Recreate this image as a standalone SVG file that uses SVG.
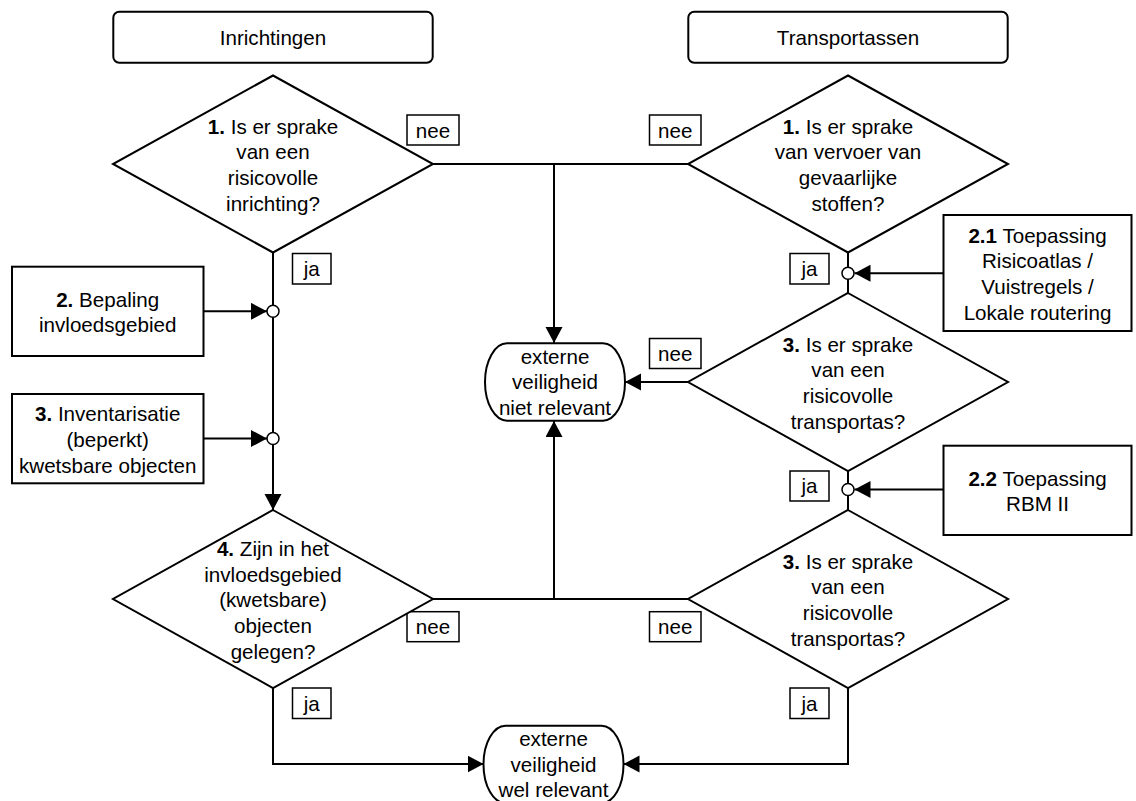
<svg xmlns="http://www.w3.org/2000/svg" width="1136" height="801" viewBox="0 0 1136 801">
<style>
text{font-family:"Liberation Sans",Arial,sans-serif;font-size:20.6px;fill:#000;text-anchor:middle}
.b{font-weight:bold}
.shape{fill:#fff;stroke:#000;stroke-width:2}
.lbl{fill:#fff;stroke:#000;stroke-width:1.5}
.ln{fill:none;stroke:#000;stroke-width:2}
.dot{fill:#fff;stroke:#000;stroke-width:1.5}
</style>
<defs>
<marker id="ah" markerUnits="userSpaceOnUse" markerWidth="17" markerHeight="18" refX="16" refY="8.5" orient="auto">
<path d="M0,0 L16,8.5 L0,17 Z" fill="#000"/>
</marker>
</defs>
<rect width="1136" height="801" fill="#fff"/>

<g id="connectors">
<path class="ln" d="M433,164 H688"/>
<path class="ln" d="M554,164 V343" marker-end="url(#ah)"/>
<path class="ln" d="M273,252.5 V510" marker-end="url(#ah)"/>
<path class="ln" d="M203.5,311.3 H267" marker-end="url(#ah)"/>
<path class="ln" d="M203.5,438.5 H267" marker-end="url(#ah)"/>
<path class="ln" d="M848,252.5 V293"/>
<path class="ln" d="M943.5,273.3 H854.5" marker-end="url(#ah)"/>
<path class="ln" d="M688,382 H625" marker-end="url(#ah)"/>
<path class="ln" d="M848,471 V510"/>
<path class="ln" d="M943.5,489.5 H854.5" marker-end="url(#ah)"/>
<path class="ln" d="M433,599 H688"/>
<path class="ln" d="M554,599 V421" marker-end="url(#ah)"/>
<path class="ln" d="M273,688 V764 H483.5" marker-end="url(#ah)"/>
<path class="ln" d="M848,688 V764 H623.5" marker-end="url(#ah)"/>
<circle class="dot" cx="273" cy="311.3" r="6"/>
<circle class="dot" cx="273" cy="438.5" r="6"/>
<circle class="dot" cx="848" cy="273.3" r="6"/>
<circle class="dot" cx="848" cy="489.5" r="6"/>
</g>

<g id="labels">
<rect class="lbl" x="407" y="115" width="52" height="30"/><text x="433" y="137.5">nee</text>
<rect class="lbl" x="649.5" y="115" width="51.5" height="30"/><text x="675.2" y="137.5">nee</text>
<rect class="lbl" x="649.5" y="338.5" width="51.5" height="30"/><text x="675.2" y="361">nee</text>
<rect class="lbl" x="407" y="611.7" width="52" height="30"/><text x="433" y="634">nee</text>
<rect class="lbl" x="649.5" y="611.7" width="51.5" height="30"/><text x="675.2" y="634">nee</text>
<rect class="lbl" x="292.5" y="253.5" width="38.5" height="30.5"/><text x="311.7" y="276">ja</text>
<rect class="lbl" x="790" y="253.5" width="39" height="30.5"/><text x="809.5" y="276">ja</text>
<rect class="lbl" x="790" y="471" width="39" height="30"/><text x="809.5" y="493.3">ja</text>
<rect class="lbl" x="292.5" y="688" width="38.5" height="30.5"/><text x="311.7" y="710.5">ja</text>
<rect class="lbl" x="790" y="688" width="39" height="30.5"/><text x="809.5" y="710.5">ja</text>
</g>

<g id="hdr-inrichtingen">
<rect class="shape" x="113.3" y="11.7" width="319.4" height="51" rx="6"/>
<text x="273" y="44.5">Inrichtingen</text>
</g>
<g id="hdr-transportassen">
<rect class="shape" x="688.3" y="11.7" width="319.4" height="51" rx="6"/>
<text x="848" y="44.5">Transportassen</text>
</g>

<g id="q-l1">
<polygon class="shape" points="273,75.5 433,164 273,252.5 113,164"/>
<text x="273" y="133.5"><tspan class="b">1.</tspan> Is er sprake</text>
<text x="273" y="159.2">van een</text>
<text x="273" y="184.9">risicovolle</text>
<text x="273" y="210.6">inrichting?</text>
</g>

<g id="q-r1">
<polygon class="shape" points="848,75.5 1008,164 848,252.5 688,164"/>
<text x="848" y="133.5"><tspan class="b">1.</tspan> Is er sprake</text>
<text x="848" y="159.2">van vervoer van</text>
<text x="848" y="184.9">gevaarlijke</text>
<text x="848" y="210.6">stoffen?</text>
</g>

<g id="box-2">
<rect class="shape" x="12" y="266.7" width="191.5" height="89.3"/>
<text x="107.7" y="306.7"><tspan class="b">2.</tspan> Bepaling</text>
<text x="107.7" y="332.4">invloedsgebied</text>
</g>

<g id="box-3">
<rect class="shape" x="12" y="394" width="191.5" height="89.3"/>
<text x="107.7" y="421.2"><tspan class="b">3.</tspan> Inventarisatie</text>
<text x="107.7" y="446.9">(beperkt)</text>
<text x="107.7" y="472.6">kwetsbare objecten</text>
</g>

<g id="box-21">
<rect class="shape" x="943.5" y="215" width="188" height="116"/>
<text x="1037.5" y="242.7"><tspan class="b">2.1</tspan> Toepassing</text>
<text x="1037.5" y="268.4">Risicoatlas /</text>
<text x="1037.5" y="294.1">Vuistregels /</text>
<text x="1037.5" y="319.8">Lokale routering</text>
</g>

<g id="q-r2">
<polygon class="shape" points="848,293 1008,382 848,471 688,382"/>
<text x="848" y="351.7"><tspan class="b">3.</tspan> Is er sprake</text>
<text x="848" y="377.4">van een</text>
<text x="848" y="403.1">risicovolle</text>
<text x="848" y="428.8">transportas?</text>
</g>

<g id="end-niet">
<rect class="shape" x="485" y="343.3" width="140" height="77.4" rx="22" ry="38.7"/>
<text x="555" y="363.5">externe</text>
<text x="555" y="389">veiligheid</text>
<text x="555" y="414.5">niet relevant</text>
</g>

<g id="box-22">
<rect class="shape" x="943.5" y="445.7" width="188" height="89.3"/>
<text x="1037.5" y="485.7"><tspan class="b">2.2</tspan> Toepassing</text>
<text x="1037.5" y="511.4">RBM II</text>
</g>

<g id="q-l4">
<polygon class="shape" points="273,510 433,599 273,688 113,599"/>
<text x="273" y="555.8"><tspan class="b">4.</tspan> Zijn in het</text>
<text x="273" y="581.5">invloedsgebied</text>
<text x="273" y="607.2">(kwetsbare)</text>
<text x="273" y="632.9">objecten</text>
<text x="273" y="658.6">gelegen?</text>
</g>

<g id="q-r3">
<polygon class="shape" points="848,510 1008,599 848,688 688,599"/>
<text x="848" y="568.7"><tspan class="b">3.</tspan> Is er sprake</text>
<text x="848" y="594.4">van een</text>
<text x="848" y="620.1">risicovolle</text>
<text x="848" y="645.8">transportas?</text>
</g>

<g id="end-wel">
<rect class="shape" x="483.5" y="725.7" width="140" height="77.4" rx="22" ry="38.7"/>
<text x="553.5" y="746">externe</text>
<text x="553.5" y="771.5">veiligheid</text>
<text x="553.5" y="797">wel relevant</text>
</g>
</svg>
